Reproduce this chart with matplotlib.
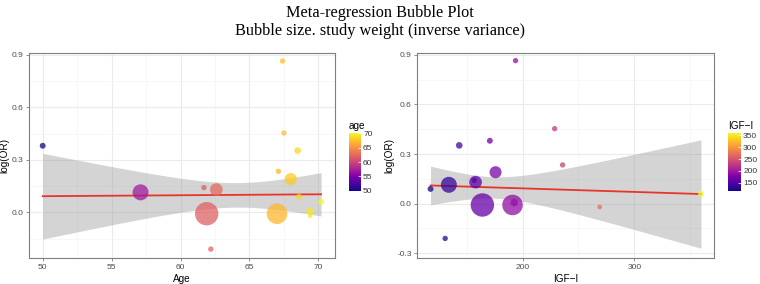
import matplotlib
matplotlib.use("Agg")
import matplotlib.pyplot as plt
import numpy as np

# one entry per study
log_or = [0.38, 0.114, 0.141, 0.13, -0.008, -0.21, 0.864, 0.453, 0.352, 0.234, 0.19, 0.089, -0.008, 0.006, -0.02, 0.059]
age = [50.0, 57.1, 61.7, 62.6, 61.9, 62.2, 67.4, 67.5, 68.5, 67.1, 68.0, 68.6, 67.0, 69.4, 69.4, 70.2]
igf = [170.7, 134.0, 156.7, 157.9, 164.0, 130.7, 193.7, 228.7, 143.3, 235.8, 175.8, 117.6, 191.0, 192.5, 269.0, 359.7]
weight = [1.2, 8.8, 1.0, 5.5, 18.8, 1.0, 1.0, 1.0, 1.5, 1.0, 5.0, 1.2, 14.5, 1.9, 0.75, 1.2]

# fitted meta-regression: intercept at x0, slope, CI params
age_fit = dict(x0=50.0, y0=0.092, slope=0.00054, xc=64.07, h0=0.07, k=0.01668)
igf_fit = dict(x0=117.6, y0=0.11, slope=-0.000214, xc=174.0, h0=0.065, k=0.001728)

plt.rcParams["font.family"] = ["Liberation Sans", "DejaVu Sans"]

fig = plt.figure(figsize=(7.6, 2.84), dpi=100)
fig.text(0.5, 0.955, "Meta-regression Bubble Plot", ha="center", va="center",
         fontsize=11.7, family="Liberation Serif")
fig.text(0.5, 0.89, "Bubble size. study weight (inverse variance)", ha="center", va="center",
         fontsize=11.7, family="Liberation Serif")

w = np.array(weight)
sizes = w * 15.1


def panel(ax, cax, x, fit, xlim, ylim, xmaj, xmin_, xlabel, ctitle, cticks):
    x = np.array(x)
    y = np.array(log_or)
    ax.set_xlim(*xlim)
    ax.set_ylim(*ylim)
    ax.set_xticks(xmaj)
    ax.set_xticks(xmin_, minor=True)
    ax.set_yticks([-0.3, 0.0, 0.3, 0.6, 0.9] if ylim[0] < -0.3 else [0.0, 0.3, 0.6, 0.9])
    ax.set_yticks([-0.15, 0.15, 0.45, 0.75], minor=True)
    ax.grid(True, which="major", color="#ebebeb", lw=0.8, zorder=0)
    ax.grid(True, which="minor", color="#f4f4f4", lw=0.5, zorder=0)
    ax.set_axisbelow(True)

    xs = np.linspace(x.min(), x.max(), 200)
    yfit = fit["y0"] + fit["slope"] * (xs - fit["x0"])
    hw = np.sqrt(fit["h0"] ** 2 + (fit["k"] * (xs - fit["xc"])) ** 2)
    ax.fill_between(xs, yfit - hw, yfit + hw, color="#999999", alpha=0.42, lw=0, zorder=2)
    ax.plot(xs, yfit, color="#e8352a", lw=1.3, zorder=3)

    order = np.argsort(-w)
    sc = ax.scatter(x[order], y[order], s=sizes[order], c=x[order], cmap="plasma",
                    vmin=x.min(), vmax=x.max(), alpha=0.75, lw=0, zorder=4)

    for s in ax.spines.values():
        s.set_color("#7f7f7f")
        s.set_linewidth(0.8)
    ax.tick_params(which="major", length=2.5, width=0.6, color="#7f7f7f",
                   labelsize=6, labelcolor="#4d4d4d", pad=1.5)
    ax.tick_params(which="minor", length=0)
    ax.set_yticklabels([f"{v:.1f}" for v in ax.get_yticks()])
    ax.set_xlabel(xlabel, fontsize=7.2, labelpad=2)
    ax.set_ylabel("log(OR)", fontsize=7.2, labelpad=2)

    cb = fig.colorbar(sc, cax=cax)
    cb.solids.set_alpha(1)
    cb.set_ticks(cticks)
    cb.outline.set_visible(False)
    cax.tick_params(length=2, width=0.5, color="white", labelsize=6,
                    labelcolor="#333333", pad=1.5, direction="in")
    cax.set_title(ctitle, fontsize=7.2, loc="left", pad=3)


ax1 = fig.add_axes([0.0386, 0.0905, 0.4022, 0.724])
cax1 = fig.add_axes([0.4592, 0.3285, 0.0158, 0.204])
panel(ax1, cax1, age, age_fit, (49.03, 71.21), (-0.2626, 0.9115),
      [50, 55, 60, 65, 70], [52.5, 57.5, 62.5, 67.5], "Age", "age", [50, 55, 60, 65, 70])

ax2 = fig.add_axes([0.549, 0.0905, 0.3904, 0.724])
cax2 = fig.add_axes([0.958, 0.3285, 0.0171, 0.204])
panel(ax2, cax2, igf, igf_fit, (105.7, 371.3), (-0.330, 0.912),
      [200, 300], [150, 250, 350], "IGF\u2212I", "IGF\u2212I", [150, 200, 250, 300, 350])

fig.savefig("out.png", dpi=100)
